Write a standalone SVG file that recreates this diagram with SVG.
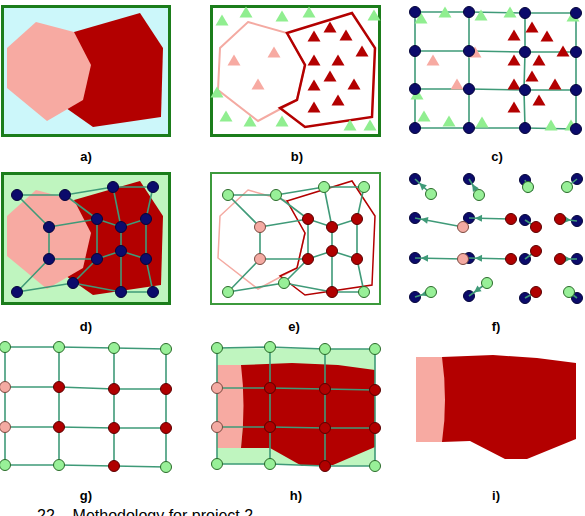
<svg xmlns="http://www.w3.org/2000/svg" xmlns:xlink="http://www.w3.org/1999/xlink" width="585" height="516" viewBox="0 0 585 516">
<style>
.frame{stroke:#1b7d1b;stroke-width:3}
.pinkf{fill:#f7aaa2}
.redf{fill:#b30000}
.pinko{fill:none;stroke:#f4aaa2}
.redo{fill:none;stroke:#b30000}
.ed{fill:none;stroke:#3f9a78;stroke-width:1.6}
.nv{fill:#0b0b6b;stroke:#04043a;stroke-width:1}
.ng{fill:#98f098;stroke:#2a6a2a;stroke-width:1}
.np{fill:#f4aaa2;stroke:#7a4a40;stroke-width:1}
.nr{fill:#b00000;stroke:#5a0000;stroke-width:1}
.tg{fill:#90ee90}
.tp{fill:#f7aaa2}
.tr{fill:#b30000}
.lbl{font-family:"Liberation Sans",Arial,sans-serif;font-weight:bold;font-size:13px;text-anchor:middle;fill:#000}
.cap{font-family:"Liberation Sans",Arial,sans-serif;font-size:16px;fill:#000}
</style>
<defs>
<path id="tri" d="M0,-6.5 L6.5,4.5 L-6.5,4.5 Z"/>
<marker id="ah" viewBox="-10 -5 18 10" markerWidth="18" markerHeight="10" refX="6" refY="0" orient="auto" markerUnits="userSpaceOnUse">
<path d="M0,0 L-7,-3.5 L-7,3.5 Z" fill="#3f9a78"/>
</marker>
</defs>
<rect width="585" height="516" fill="#fff"/>

<!-- a -->
<g id="panel-a">
<rect x="2.5" y="6.5" width="167" height="129" fill="#ccf7fa" class="frame"/>
<polygon class="redf" points="74,32 140,13 163,48 161,117 93,127 66,108 60,60"/>
<polygon class="pinkf" points="36,22 74,32 91,65 83,100 47,121 7,88 7,48"/>
<text class="lbl" x="86" y="161">a)</text>
</g>

<!-- b -->
<g id="panel-b">
<rect x="211.5" y="6.5" width="168" height="129" fill="#fff" class="frame"/>
<polygon class="pinko" stroke-width="2" points="248,22 287,33 305,65 297,100 258,121 218,90 220,48"/>
<polygon class="redo" stroke-width="2.5" points="287,33 352,13 375,48 372,117 305,127 280,108 297,100 305,65"/>
<g class="tg">
<use href="#tri" x="222" y="21"/><use href="#tri" x="246" y="13"/><use href="#tri" x="282" y="17"/><use href="#tri" x="309" y="13"/><use href="#tri" x="374" y="16"/><use href="#tri" x="217" y="93"/><use href="#tri" x="226" y="117"/><use href="#tri" x="250" y="122"/><use href="#tri" x="282" y="122"/><use href="#tri" x="350" y="126"/><use href="#tri" x="370" y="126"/>
</g>
<g class="tp">
<use href="#tri" x="234" y="61"/><use href="#tri" x="274" y="53"/><use href="#tri" x="258" y="85"/>
</g>
<g class="tr">
<use href="#tri" x="330" y="28"/><use href="#tri" x="314" y="37"/><use href="#tri" x="346" y="36"/><use href="#tri" x="314" y="61"/><use href="#tri" x="338" y="61"/><use href="#tri" x="362" y="52"/><use href="#tri" x="330" y="77"/><use href="#tri" x="314" y="86"/><use href="#tri" x="354" y="85"/><use href="#tri" x="338" y="101"/><use href="#tri" x="314" y="108"/>
</g>
<text class="lbl" x="297" y="161">b)</text>
</g>

<!-- c -->
<g id="panel-c">
<g class="ed">
<polyline points="415,12 469,12 525,13 576,13"/>
<polyline points="415,51 469,51 525,52 576,52"/>
<polyline points="415,89 469,89 525,90 576,90"/>
<polyline points="415,128 469,128 525,128 576,129"/>
<polyline points="415,12 415,51 415,89 415,128"/>
<polyline points="469,12 469,51 469,89 469,128"/>
<polyline points="525,13 525,52 524,90 525,128"/>
<polyline points="576,13 576,52 576,90 576,129"/>
</g>
<g class="tg">
<use href="#tri" x="421" y="19"/><use href="#tri" x="445" y="13"/><use href="#tri" x="481" y="16"/><use href="#tri" x="510" y="13"/><use href="#tri" x="573" y="17"/><use href="#tri" x="417" y="95"/><use href="#tri" x="424" y="117"/><use href="#tri" x="449" y="122"/><use href="#tri" x="482" y="123"/><use href="#tri" x="551" y="126"/><use href="#tri" x="571" y="126"/>
</g>
<g class="tp">
<use href="#tri" x="433" y="61"/><use href="#tri" x="475" y="53"/><use href="#tri" x="457" y="85"/>
</g>
<g class="tr">
<use href="#tri" x="532" y="28"/><use href="#tri" x="514" y="36"/><use href="#tri" x="547" y="37"/><use href="#tri" x="514" y="61"/><use href="#tri" x="539" y="61"/><use href="#tri" x="563" y="52"/><use href="#tri" x="532" y="77"/><use href="#tri" x="514" y="85"/><use href="#tri" x="555" y="85"/><use href="#tri" x="539" y="101"/><use href="#tri" x="514" y="108"/>
</g>
<g class="nv">
<circle cx="415" cy="12" r="5.5"/><circle cx="469" cy="12" r="5.5"/><circle cx="525" cy="13" r="5.5"/><circle cx="576" cy="13" r="5.5"/>
<circle cx="415" cy="51" r="5.5"/><circle cx="469" cy="51" r="5.5"/><circle cx="525" cy="52" r="5.5"/><circle cx="576" cy="52" r="5.5"/>
<circle cx="415" cy="89" r="5.5"/><circle cx="469" cy="89" r="5.5"/><circle cx="525" cy="90" r="5.5"/><circle cx="576" cy="90" r="5.5"/>
<circle cx="415" cy="128" r="5.5"/><circle cx="469" cy="128" r="5.5"/><circle cx="525" cy="128" r="5.5"/><circle cx="576" cy="129" r="5.5"/>
</g>
<text class="lbl" x="497" y="161">c)</text>
</g>

<!-- d -->
<g id="panel-d">
<rect x="2.5" y="173.5" width="167" height="130" fill="#bff5bf" class="frame"/>
<polygon class="redf" points="74,200 140,181 163,216 161,285 93,295 66,276 60,230"/>
<polygon class="pinkf" points="36,190 74,200 91,233 83,268 47,289 7,256 7,216"/>
<g class="ed">
<polyline points="17,195 65,195 113,187 153,187"/>
<polyline points="49,227 97,219 121,227 146,219"/>
<polyline points="49,259 97,259 121,251 146,259"/>
<polyline points="17,292 73,283 121,292 153,292"/>
<polyline points="17,195 49,227 49,259 17,292"/>
<polyline points="65,195 97,219 97,259 73,283"/>
<polyline points="113,187 121,227 121,251 121,292"/>
<polyline points="153,187 146,219 146,259 153,292"/>
</g>
<g class="nv">
<circle cx="17" cy="195" r="5.5"/><circle cx="65" cy="195" r="5.5"/><circle cx="113" cy="187" r="5.5"/><circle cx="153" cy="187" r="5.5"/>
<circle cx="49" cy="227" r="5.5"/><circle cx="97" cy="219" r="5.5"/><circle cx="121" cy="227" r="5.5"/><circle cx="146" cy="219" r="5.5"/>
<circle cx="49" cy="259" r="5.5"/><circle cx="97" cy="259" r="5.5"/><circle cx="121" cy="251" r="5.5"/><circle cx="146" cy="259" r="5.5"/>
<circle cx="17" cy="292" r="5.5"/><circle cx="73" cy="283" r="5.5"/><circle cx="121" cy="292" r="5.5"/><circle cx="153" cy="292" r="5.5"/>
</g>
<text class="lbl" x="86" y="331">d)</text>
</g>

<!-- e -->
<g id="panel-e">
<rect x="211" y="173" width="169" height="131" fill="#fff" stroke="#3c9a3c" stroke-width="2"/>
<polygon class="pinko" stroke-width="1.5" points="248,190 287,201 305,233 297,268 258,289 218,258 220,216"/>
<polygon class="redo" stroke-width="1.5" points="287,201 352,181 375,216 372,285 305,295 280,276 297,268 305,233"/>
<g class="ed" transform="translate(211,0)">
<polyline points="17,195 65,195 113,187 153,187"/>
<polyline points="49,227 97,219 121,227 146,219"/>
<polyline points="49,259 97,259 121,251 146,259"/>
<polyline points="17,292 73,283 121,292 153,292"/>
<polyline points="17,195 49,227 49,259 17,292"/>
<polyline points="65,195 97,219 97,259 73,283"/>
<polyline points="113,187 121,227 121,251 121,292"/>
<polyline points="153,187 146,219 146,259 153,292"/>
</g>
<g transform="translate(211,0)">
<circle class="ng" cx="17" cy="195" r="5.5"/><circle class="ng" cx="65" cy="195" r="5.5"/><circle class="ng" cx="113" cy="187" r="5.5"/><circle class="ng" cx="153" cy="187" r="5.5"/>
<circle class="np" cx="49" cy="227" r="5.5"/><circle class="nr" cx="97" cy="219" r="5.5"/><circle class="nr" cx="121" cy="227" r="5.5"/><circle class="nr" cx="146" cy="219" r="5.5"/>
<circle class="np" cx="49" cy="259" r="5.5"/><circle class="nr" cx="97" cy="259" r="5.5"/><circle class="nr" cx="121" cy="251" r="5.5"/><circle class="nr" cx="146" cy="259" r="5.5"/>
<circle class="ng" cx="17" cy="292" r="5.5"/><circle class="ng" cx="73" cy="283" r="5.5"/><circle class="nr" cx="121" cy="292" r="5.5"/><circle class="ng" cx="153" cy="292" r="5.5"/>
</g>
<text class="lbl" x="294" y="331">e)</text>
</g>

<!-- f -->
<g id="panel-f">
<g class="nv">
<circle cx="415" cy="179" r="5.5"/><circle cx="469" cy="179" r="5.5"/><circle cx="525" cy="180" r="5.5"/><circle cx="577" cy="179" r="5.5"/>
<circle cx="415" cy="218" r="5.5"/><circle cx="469" cy="218" r="5.5"/><circle cx="525" cy="220" r="5.5"/><circle cx="577" cy="221" r="5.5"/>
<circle cx="415" cy="258" r="5.5"/><circle cx="469" cy="258" r="5.5"/><circle cx="525" cy="259" r="5.5"/><circle cx="577" cy="259" r="5.5"/>
<circle cx="415" cy="297" r="5.5"/><circle cx="469" cy="296" r="5.5"/><circle cx="525" cy="298" r="5.5"/><circle cx="577" cy="298" r="5.5"/>
</g>
<g class="ed" marker-end="url(#ah)">
<line x1="431" y1="194" x2="415" y2="179"/>
<line x1="479" y1="195" x2="469" y2="179"/>
<line x1="528" y1="187" x2="525" y2="180"/>
<line x1="567" y1="187" x2="577" y2="179"/>
<line x1="463" y1="227" x2="415" y2="218"/>
<line x1="511" y1="219" x2="469" y2="218"/>
<line x1="536" y1="227" x2="525" y2="220"/>
<line x1="560" y1="219" x2="577" y2="221"/>
<line x1="463" y1="259" x2="415" y2="258"/>
<line x1="511" y1="259" x2="469" y2="258"/>
<line x1="536" y1="251" x2="525" y2="259"/>
<line x1="560" y1="259" x2="577" y2="259"/>
<line x1="431" y1="292" x2="415" y2="297"/>
<line x1="487" y1="283" x2="469" y2="296"/>
<line x1="536" y1="292" x2="525" y2="298"/>
<line x1="569" y1="292" x2="577" y2="298"/>
</g>
<circle class="ng" cx="431" cy="194" r="5.5"/><circle class="ng" cx="479" cy="195" r="5.5"/><circle class="ng" cx="528" cy="187" r="5.5"/><circle class="ng" cx="567" cy="187" r="5.5"/>
<circle class="np" cx="463" cy="227" r="5.5"/><circle class="nr" cx="511" cy="219" r="5.5"/><circle class="nr" cx="536" cy="227" r="5.5"/><circle class="nr" cx="560" cy="219" r="5.5"/>
<circle class="np" cx="463" cy="259" r="5.5"/><circle class="nr" cx="511" cy="259" r="5.5"/><circle class="nr" cx="536" cy="251" r="5.5"/><circle class="nr" cx="560" cy="259" r="5.5"/>
<circle class="ng" cx="431" cy="292" r="5.5"/><circle class="ng" cx="487" cy="283" r="5.5"/><circle class="nr" cx="536" cy="292" r="5.5"/><circle class="ng" cx="569" cy="292" r="5.5"/>
<text class="lbl" x="496" y="331">f)</text>
</g>

<!-- g -->
<g id="panel-g">
<g class="ed">
<polyline points="5,347 59,347 114,348 166,349"/>
<polyline points="5,387 59,387 114,389 166,389"/>
<polyline points="5,427 59,427 114,428 166,428"/>
<polyline points="5,465 59,465 114,466 166,467"/>
<polyline points="5,347 5,387 5,427 5,465"/>
<polyline points="59,347 59,387 59,427 59,465"/>
<polyline points="114,348 114,389 114,428 114,466"/>
<polyline points="166,349 166,389 166,428 166,467"/>
</g>
<circle class="ng" cx="5" cy="347" r="5.5"/><circle class="ng" cx="59" cy="347" r="5.5"/><circle class="ng" cx="114" cy="348" r="5.5"/><circle class="ng" cx="166" cy="349" r="5.5"/>
<circle class="np" cx="5" cy="387" r="5.5"/><circle class="nr" cx="59" cy="387" r="5.5"/><circle class="nr" cx="114" cy="389" r="5.5"/><circle class="nr" cx="166" cy="389" r="5.5"/>
<circle class="np" cx="5" cy="427" r="5.5"/><circle class="nr" cx="59" cy="427" r="5.5"/><circle class="nr" cx="114" cy="428" r="5.5"/><circle class="nr" cx="166" cy="428" r="5.5"/>
<circle class="ng" cx="5" cy="465" r="5.5"/><circle class="ng" cx="59" cy="465" r="5.5"/><circle class="nr" cx="114" cy="466" r="5.5"/><circle class="ng" cx="166" cy="467" r="5.5"/>
<text class="lbl" x="86" y="500">g)</text>
</g>

<!-- h -->
<g id="panel-h">
<polygon fill="#bff5bf" points="217,348 375,349 375,466 217,464"/>
<polygon class="pinkf" points="217,365 242,365 245,397 241,448 217,448"/>
<path class="redf" d="M241,365 L292,363 L338,365 L375,370 L375,447 L333,465 L302,466 L270,448 L241,448 Q246,405 241,365 Z"/>
<g class="ed">
<polyline points="217,348 270,347 325,349 375,349"/>
<polyline points="217,388 270,388 325,389 375,390"/>
<polyline points="217,427 270,427 325,428 375,428"/>
<polyline points="217,464 270,464 325,466 375,466"/>
<polyline points="217,348 217,388 217,427 217,464"/>
<polyline points="270,347 270,388 270,427 270,464"/>
<polyline points="325,349 325,389 325,428 325,466"/>
<polyline points="375,349 375,390 375,428 375,466"/>
</g>
<circle class="ng" cx="217" cy="348" r="5.5"/><circle class="ng" cx="270" cy="347" r="5.5"/><circle class="ng" cx="325" cy="349" r="5.5"/><circle class="ng" cx="375" cy="349" r="5.5"/>
<circle class="np" cx="217" cy="388" r="5.5"/><circle class="nr" cx="270" cy="388" r="5.5"/><circle class="nr" cx="325" cy="389" r="5.5"/><circle class="nr" cx="375" cy="390" r="5.5"/>
<circle class="np" cx="217" cy="427" r="5.5"/><circle class="nr" cx="270" cy="427" r="5.5"/><circle class="nr" cx="325" cy="428" r="5.5"/><circle class="nr" cx="375" cy="428" r="5.5"/>
<circle class="ng" cx="217" cy="464" r="5.5"/><circle class="ng" cx="270" cy="464" r="5.5"/><circle class="nr" cx="325" cy="466" r="5.5"/><circle class="ng" cx="375" cy="466" r="5.5"/>
<text class="lbl" x="296" y="500">h)</text>
</g>

<!-- i -->
<g id="panel-i">
<polygon class="pinkf" points="416,357 443,357 446,400 443,442 416,442"/>
<path class="redf" d="M442,357 L493,355 L537,358 L576,363 L576,439 L527,459 L505,459 L470,441 L442,442 Q448,400 442,357 Z"/>
<text class="lbl" x="496" y="500">i)</text>
</g>

<text class="cap" x="37" y="521">22 – Methodology for project 2</text>
</svg>
